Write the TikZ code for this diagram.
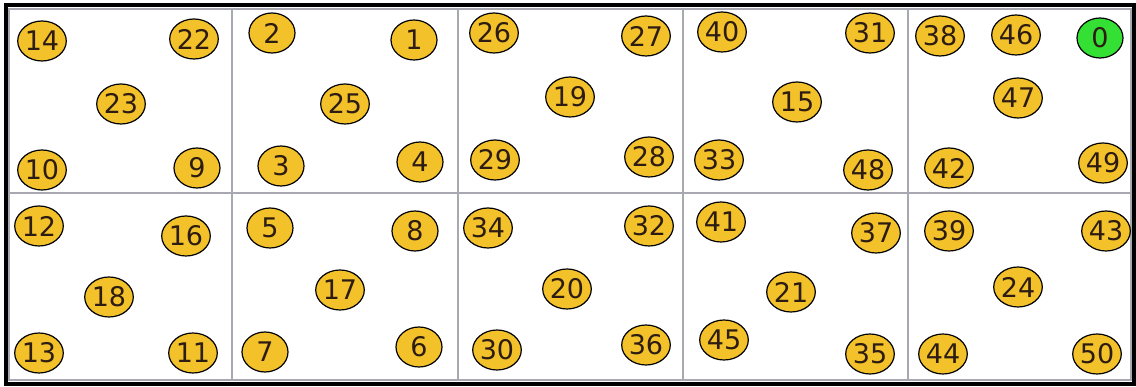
\documentclass[tikz,border=0pt]{standalone}
\usepackage{fontspec}
\setsansfont{DejaVu Sans}
\usepackage{xcolor}
\usepackage{tikz}
\usetikzlibrary{shapes.geometric}
\definecolor{nodefill}{RGB}{243,193,42}
\definecolor{sinkfill}{RGB}{52,224,52}
\definecolor{gridgray}{RGB}{168,168,176}
\definecolor{labelink}{RGB}{45,28,18}

\begin{document}
\begin{tikzpicture}[x=1pt, y=-1pt,
    sensor/.style={ellipse, draw=black, line width=1.2pt, fill=nodefill,
        minimum width=46pt, minimum height=40pt, inner sep=0pt,
        font=\sffamily\fontsize{27}{27}\selectfont, text=labelink},
    sink/.style={sensor, fill=sinkfill},
    cellline/.style={gridgray, line width=1.5pt}]
\useasboundingbox (0,0) rectangle (1136,387);
\fill[white] (0,0) rectangle (1136,387);
% field cells
\draw[cellline] (9,9) rectangle (1131,380);
\foreach \x in {232,458,683,908}
    \draw[cellline] (\x,9) -- (\x,380);
\draw[cellline] (9,193) -- (1131,193);
\draw[black, line width=4pt] (5.5,5.5) rectangle (1134,384.5);
% upper row
\node[sensor] (n14) at (42,41) {14};
\node[sensor] (n22) at (194,39) {22};
\node[sensor] (n23) at (121,104) {23};
\node[sensor] (n10) at (42,170) {10};
\node[sensor] (n9) at (197,168) {9};
\node[sensor] (n2) at (272,33) {2};
\node[sensor] (n1) at (414,40) {1};
\node[sensor] (n25) at (345,104) {25};
\node[sensor] (n3) at (281,166) {3};
\node[sensor] (n4) at (420,162) {4};
\node[sensor] (n26) at (494,33) {26};
\node[sensor] (n27) at (646,36) {27};
\node[sensor] (n19) at (570,97) {19};
\node[sensor] (n29) at (495,160) {29};
\node[sensor] (n28) at (649,157) {28};
\node[sensor] (n40) at (722,32) {40};
\node[sensor] (n31) at (870,33) {31};
\node[sensor] (n15) at (797,102) {15};
\node[sensor] (n33) at (719,160) {33};
\node[sensor] (n48) at (868,170) {48};
\node[sensor] (n38) at (940,36) {38};
\node[sensor] (n46) at (1016,35) {46};
\node[sink] (n0) at (1100,38) {0};
\node[sensor] (n47) at (1018,98) {47};
\node[sensor] (n42) at (949,168) {42};
\node[sensor] (n49) at (1103,163) {49};
% lower row
\node[sensor] (n12) at (39,226) {12};
\node[sensor] (n16) at (186,236) {16};
\node[sensor] (n18) at (109,297) {18};
\node[sensor] (n13) at (39,353) {13};
\node[sensor] (n11) at (193,353) {11};
\node[sensor] (n5) at (270,228) {5};
\node[sensor] (n8) at (415,231) {8};
\node[sensor] (n17) at (340,290) {17};
\node[sensor] (n7) at (265,352) {7};
\node[sensor] (n6) at (419,347) {6};
\node[sensor] (n34) at (488,228) {34};
\node[sensor] (n32) at (649,226) {32};
\node[sensor] (n20) at (567,289) {20};
\node[sensor] (n30) at (497,350) {30};
\node[sensor] (n36) at (646,345) {36};
\node[sensor] (n41) at (721,222) {41};
\node[sensor] (n37) at (876,233) {37};
\node[sensor] (n21) at (791,292) {21};
\node[sensor] (n45) at (724,340) {45};
\node[sensor] (n35) at (870,354) {35};
\node[sensor] (n39) at (949,231) {39};
\node[sensor] (n43) at (1106,231) {43};
\node[sensor] (n24) at (1018,287) {24};
\node[sensor] (n44) at (943,354) {44};
\node[sensor] (n50) at (1097,354) {50};
\end{tikzpicture}
\end{document}
